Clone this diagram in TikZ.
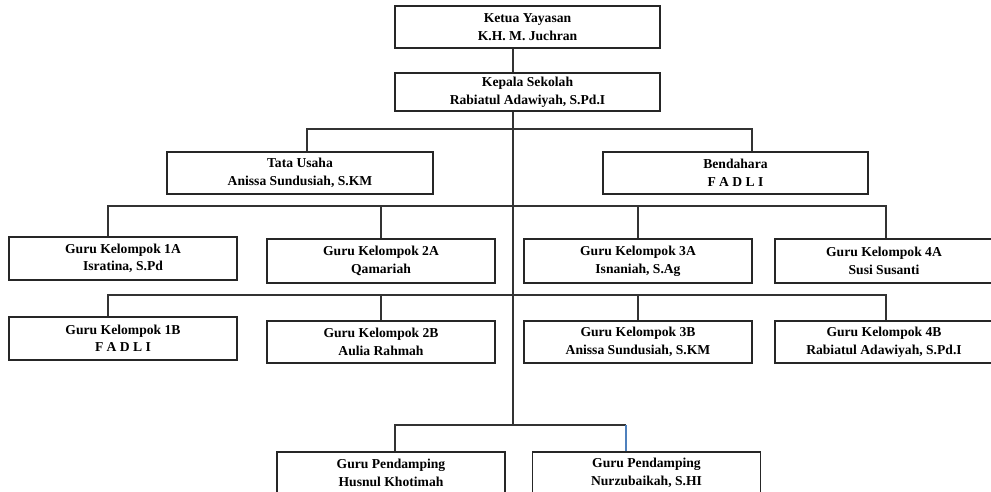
\documentclass[tikz,border=0pt]{standalone}
\usepackage{fontspec}
\setmainfont{Liberation Serif}
\definecolor{garisbiru}{RGB}{79,129,189}
\begin{document}
\begin{tikzpicture}
		[x=0.02cm,y=-0.02cm,
		kotak/.style={draw=black!85, line width=0.9pt, align=center,
			font=\fontsize{7.75}{10}\selectfont\bfseries, inner sep=0pt,
			minimum width=4.56cm, minimum height=0.86cm},
		garis/.style={draw=black!80, line width=0.65pt}
	]
		\useasboundingbox (0,0) rectangle (991,492);
		% pimpinan
		\node[kotak, minimum width=5.3cm, minimum height=0.84cm] (ketua) at (527.5,27)
			{Ketua Yayasan\\K.H. M. Juchran};
		\node[kotak, minimum width=5.3cm, minimum height=0.76cm] (kepala) at (527.5,92)
			{Kepala Sekolah\\Rabiatul Adawiyah, S.Pd.I};
		\node[kotak, minimum width=5.32cm, minimum height=0.84cm] (tu) at (300,173)
			{Tata Usaha\\Anissa Sundusiah, S.KM};
		\node[kotak, minimum width=5.3cm, minimum height=0.84cm] (bendahara) at (735.5,173)
			{Bendahara\\F A D L I};
		% guru kelompok A
		\node[kotak] (g1a) at (123,258.5) {Guru Kelompok 1A\\Isratina, S.Pd};
		\node[kotak, minimum height=0.88cm] (g2a) at (381,261) {Guru Kelompok 2A\\Qamariah};
		\node[kotak, minimum height=0.88cm] (g3a) at (638,261) {Guru Kelompok 3A\\Isnaniah, S.Ag};
		\node[kotak, minimum width=4.36cm, minimum height=0.88cm] (g4a) at (884,261)
			{Guru Kelompok 4A\\Susi Susanti};
		% guru kelompok B
		\node[kotak] (g1b) at (123,338.5) {Guru Kelompok 1B\\F A D L I};
		\node[kotak, minimum height=0.84cm] (g2b) at (381,342) {Guru Kelompok 2B\\Aulia Rahmah};
		\node[kotak, minimum height=0.84cm] (g3b) at (638,342) {Guru Kelompok 3B\\Anissa Sundusiah, S.KM};
		\node[kotak, minimum width=4.36cm, minimum height=0.84cm] (g4b) at (884,342)
			{Guru Kelompok 4B\\Rabiatul Adawiyah, S.Pd.I};
		% guru pendamping
		\node[kotak, minimum height=0.84cm] (pd1) at (391,473) {Guru Pendamping\\Husnul Khotimah};
		\node[kotak, minimum height=0.84cm] (pd2) at (646.5,473) {Guru Pendamping\\Nurzubaikah, S.HI};

		% titik cabang
		\coordinate (batang) at (513,425);
		\coordinate (tuk) at (307,129);
		\coordinate (bdk) at (752,129);
		\coordinate (ak1) at (108,206);
		\coordinate (ak4) at (886,206);
		\coordinate (bk1) at (108,295);
		\coordinate (bk4) at (886,295);
		\coordinate (pk1) at (395,425);
		\coordinate (pk2) at (626,425);

		\draw[garis] (ketua.south -| batang) -- (kepala.north -| batang);
		\draw[garis] (kepala.south -| batang) -- (batang);
		\draw[garis] (tu.north -| tuk) -- (tuk) -- (bdk) -- (bendahara.north -| bdk);
		\draw[garis] (g1a.north -| ak1) -- (ak1) -- (ak4) -- (g4a.north -| ak4);
		\draw[garis] (g2a.north) -- (g2a.north |- ak1);
		\draw[garis] (g3a.north) -- (g3a.north |- ak1);
		\draw[garis] (g1b.north -| bk1) -- (bk1) -- (bk4) -- (g4b.north -| bk4);
		\draw[garis] (g2b.north) -- (g2b.north |- bk1);
		\draw[garis] (g3b.north) -- (g3b.north |- bk1);
		\draw[garis] (pd1.north -| pk1) -- (pk1) -- (pk2);
		\draw[garis, draw=garisbiru] (pk2) -- (pd2.north -| pk2);
	\end{tikzpicture}
\end{document}
